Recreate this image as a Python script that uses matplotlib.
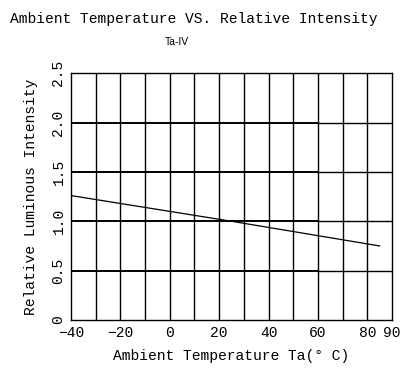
import numpy as np
import matplotlib.pyplot as plt

# 读图得到的曲线数据
temp = [-40, 0, 25, 85]
intensity = [1.26, 1.10, 1.00, 0.75]

xticks = [-40, -20, 0, 20, 40, 60, 80, 90]
yticks = [0, 0.5, 1.0, 1.5, 2.0, 2.5]
ytick_labels = ['0', '0.5', '1.0', '1.5', '2.0', '2.5']

plt.rcParams['font.family'] = ['Liberation Mono', 'DejaVu Sans']

fig = plt.figure(figsize=(4.02, 3.69), dpi=100)
ax = fig.add_axes([0.1766, 0.1328, 0.7984, 0.669])

# 网格
for x in range(-30, 90, 10):
    ax.axvline(x, color='black', lw=1.0, zorder=1)
for y in [0.5, 1.0, 1.5, 2.0]:
    ax.plot([-40, 60], [y, y], color='black', lw=1.4, zorder=1)
    ax.plot([60, 90], [y, y], color='black', lw=1.0, zorder=1)

ax.plot(temp, intensity, color='black', lw=0.9, zorder=2)

ax.set_xlim(-40, 90)
ax.set_ylim(0, 2.5)
ax.set_xticks(xticks)
ax.set_xticklabels([str(t).replace('-', '\u2212') for t in xticks], fontsize=10.5)
ax.set_yticks(yticks)
ax.set_yticklabels(ytick_labels, fontsize=10.5, rotation=90, va='center')
ax.tick_params(length=0, pad=4)
for s in ax.spines.values():
    s.set_linewidth(1.0)

ax.set_xlabel('Ambient Temperature Ta(° C)', fontsize=10.5, labelpad=7)
ax.set_ylabel('Relative Luminous Intensity', fontsize=10.5, labelpad=10)

fig.text(0.025, 0.948, 'Ambient Temperature VS. Relative Intensity', fontsize=10.5, va='center')
fig.text(0.439, 0.8875, 'Ta-IV', fontsize=7.5, family='Liberation Sans', va='center', ha='center')

plt.savefig('out.png', dpi=100)
